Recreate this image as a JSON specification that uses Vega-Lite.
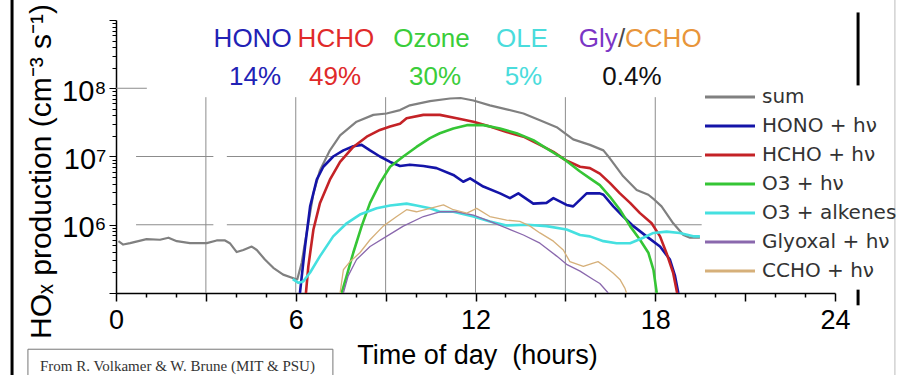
{
  "$schema": "https://vega.github.io/schema/vega-lite/v6.json",
  "width": 719,
  "height": 273,
  "autosize": {"type": "none"},
  "padding": {"left": 116, "top": 20, "right": 64, "bottom": 82},
  "background": "white",
  "config": {"view": {"stroke": null}, "font": "Liberation Sans"},
  "datasets": {
    "hgrid": [
      {"h": 0, "h2": 1.03, "v": 1e8},
      {"h": 0.67, "h2": 3.25, "v": 1e7},
      {"h": 3.7, "h2": 19.55, "v": 1e7},
      {"h": 0.67, "h2": 3.25, "v": 1e6},
      {"h": 3.7, "h2": 19.55, "v": 1e6}
    ],
    "vgrid": [
      {"h": 3, "v": 1e5, "v2": 7.4e7},
      {"h": 6, "v": 1e5, "v2": 7.4e7},
      {"h": 9, "v": 1e5, "v2": 7.4e7},
      {"h": 12, "v": 1e5, "v2": 7.4e7},
      {"h": 15, "v": 1e5, "v2": 7.4e7},
      {"h": 18, "v": 1e5, "v2": 7.4e7}
    ],
    "frame": [
      {"h": -3.47, "v": 3e9, "v2": 3e3},
      {"h": 24.77, "v": 1.29e9, "v2": 1.1e8},
      {"h": 24.77, "v": 1.12e5, "v2": 6.6e4}
    ],
    "edge": [{"h": 26.0, "v": 3e9, "v2": 3e3}],
    "creditBox": [{"h": -2.94, "h2": 7.24, "v": 1.5e4, "v2": 2e3}],
    "creditText": [{"h": -2.54, "v": 7.15e3, "t": "From R. Volkamer & W. Brune (MIT & PSU)"}],
    "labels": [
      {"t": "HONO", "g": "HONO", "h": 4.56, "v": 3.97e8},
      {"t": "HCHO", "g": "HCHO", "h": 7.34, "v": 3.97e8},
      {"t": "Ozone", "g": "Ozone", "h": 10.53, "v": 3.97e8},
      {"t": "OLE", "g": "OLE", "h": 13.55, "v": 3.97e8},
      {"t": "Gly", "g": "Gly", "h": 16.1, "v": 3.97e8},
      {"t": "/", "g": "slash", "h": 16.88, "v": 3.97e8},
      {"t": "CCHO", "g": "CCHO", "h": 18.27, "v": 3.97e8},
      {"t": "14%", "g": "HONO", "h": 4.64, "v": 1.125e8},
      {"t": "49%", "g": "HCHO", "h": 7.31, "v": 1.125e8},
      {"t": "30%", "g": "Ozone", "h": 10.65, "v": 1.125e8},
      {"t": "5%", "g": "OLE", "h": 13.6, "v": 1.125e8},
      {"t": "0.4%", "g": "total", "h": 17.22, "v": 1.125e8}
    ],
    "lines": [
      {"s": "sum", "h": 0.08, "v": 5.75e5}, {"s": "sum", "h": 0.24, "v": 5.13e5}, {"s": "sum", "h": 0.47, "v": 5.37e5}, {"s": "sum", "h": 1.02, "v": 6.17e5}, {"s": "sum", "h": 1.47, "v": 6.03e5}, {"s": "sum", "h": 1.75, "v": 6.46e5}, {"s": "sum", "h": 2.03, "v": 5.75e5}, {"s": "sum", "h": 2.47, "v": 5.37e5}, {"s": "sum", "h": 3.03, "v": 5.37e5}, {"s": "sum", "h": 3.36, "v": 5.89e5}, {"s": "sum", "h": 3.64, "v": 5.89e5}, {"s": "sum", "h": 3.8, "v": 5.37e5}, {"s": "sum", "h": 4.03, "v": 3.98e5}, {"s": "sum", "h": 4.25, "v": 4.27e5}, {"s": "sum", "h": 4.53, "v": 4.79e5}, {"s": "sum", "h": 4.7, "v": 4.27e5}, {"s": "sum", "h": 4.97, "v": 3.09e5}, {"s": "sum", "h": 5.25, "v": 2.34e5}, {"s": "sum", "h": 5.58, "v": 1.86e5}, {"s": "sum", "h": 5.97, "v": 1.62e5}, {"s": "sum", "h": 6.05, "v": 1.58e5}, {"s": "sum", "h": 6.2, "v": 2.8e5}, {"s": "sum", "h": 6.3, "v": 5.2e5}, {"s": "sum", "h": 6.42, "v": 1.05e6}, {"s": "sum", "h": 6.59, "v": 2.88e6}, {"s": "sum", "h": 6.81, "v": 6.31e6}, {"s": "sum", "h": 7.14, "v": 1.23e7}, {"s": "sum", "h": 7.48, "v": 2.04e7}, {"s": "sum", "h": 8.03, "v": 3.24e7}, {"s": "sum", "h": 8.59, "v": 4.07e7}, {"s": "sum", "h": 9.03, "v": 4.27e7}, {"s": "sum", "h": 9.48, "v": 4.79e7}, {"s": "sum", "h": 9.81, "v": 5.62e7}, {"s": "sum", "h": 10.48, "v": 6.46e7}, {"s": "sum", "h": 11.15, "v": 7.08e7}, {"s": "sum", "h": 11.5, "v": 7.2e7}, {"s": "sum", "h": 11.93, "v": 6.61e7}, {"s": "sum", "h": 12.48, "v": 5.62e7}, {"s": "sum", "h": 13.04, "v": 4.9e7}, {"s": "sum", "h": 13.6, "v": 4.27e7}, {"s": "sum", "h": 14.15, "v": 3.39e7}, {"s": "sum", "h": 14.71, "v": 2.69e7}, {"s": "sum", "h": 14.99, "v": 2.19e7}, {"s": "sum", "h": 15.26, "v": 1.78e7}, {"s": "sum", "h": 15.82, "v": 1.48e7}, {"s": "sum", "h": 16.27, "v": 1.23e7}, {"s": "sum", "h": 16.49, "v": 9.33e6}, {"s": "sum", "h": 16.93, "v": 5.13e6}, {"s": "sum", "h": 17.38, "v": 3.24e6}, {"s": "sum", "h": 17.77, "v": 2.75e6}, {"s": "sum", "h": 17.99, "v": 2.29e6}, {"s": "sum", "h": 18.21, "v": 1.86e6}, {"s": "sum", "h": 18.6, "v": 1.05e6}, {"s": "sum", "h": 18.94, "v": 7.08e5}, {"s": "sum", "h": 19.16, "v": 6.46e5}, {"s": "sum", "h": 19.49, "v": 6.46e5},
      {"s": "HONO + hν", "h": 6.14, "v": 1.0e5}, {"s": "HONO + hν", "h": 6.31, "v": 4.79e5}, {"s": "HONO + hν", "h": 6.48, "v": 1.86e6}, {"s": "HONO + hν", "h": 6.7, "v": 4.57e6}, {"s": "HONO + hν", "h": 6.92, "v": 7.08e6}, {"s": "HONO + hν", "h": 7.25, "v": 1.0e7}, {"s": "HONO + hν", "h": 7.59, "v": 1.23e7}, {"s": "HONO + hν", "h": 7.92, "v": 1.41e7}, {"s": "HONO + hν", "h": 8.2, "v": 1.48e7}, {"s": "HONO + hν", "h": 8.48, "v": 1.23e7}, {"s": "HONO + hν", "h": 8.81, "v": 1.0e7}, {"s": "HONO + hν", "h": 9.15, "v": 8.32e6}, {"s": "HONO + hν", "h": 9.48, "v": 7.24e6}, {"s": "HONO + hν", "h": 9.81, "v": 7.59e6}, {"s": "HONO + hν", "h": 10.26, "v": 7.24e6}, {"s": "HONO + hν", "h": 10.7, "v": 6.76e6}, {"s": "HONO + hν", "h": 11.26, "v": 5.37e6}, {"s": "HONO + hν", "h": 11.59, "v": 4.27e6}, {"s": "HONO + hν", "h": 11.82, "v": 4.79e6}, {"s": "HONO + hν", "h": 12.26, "v": 3.63e6}, {"s": "HONO + hν", "h": 12.82, "v": 2.88e6}, {"s": "HONO + hν", "h": 13.15, "v": 2.45e6}, {"s": "HONO + hν", "h": 13.43, "v": 2.88e6}, {"s": "HONO + hν", "h": 13.93, "v": 2.04e6}, {"s": "HONO + hν", "h": 14.37, "v": 2.09e6}, {"s": "HONO + hν", "h": 14.6, "v": 2.45e6}, {"s": "HONO + hν", "h": 15.04, "v": 1.95e6}, {"s": "HONO + hν", "h": 15.26, "v": 1.86e6}, {"s": "HONO + hν", "h": 15.71, "v": 2.88e6}, {"s": "HONO + hν", "h": 16.15, "v": 2.88e6}, {"s": "HONO + hν", "h": 16.27, "v": 2.75e6}, {"s": "HONO + hν", "h": 16.6, "v": 1.86e6}, {"s": "HONO + hν", "h": 16.93, "v": 1.32e6}, {"s": "HONO + hν", "h": 17.27, "v": 9.55e5}, {"s": "HONO + hν", "h": 17.71, "v": 6.76e5}, {"s": "HONO + hν", "h": 18.16, "v": 4.79e5}, {"s": "HONO + hν", "h": 18.49, "v": 3.09e5}, {"s": "HONO + hν", "h": 18.66, "v": 1.78e5}, {"s": "HONO + hν", "h": 18.77, "v": 1.0e5},
      {"s": "HCHO + hν", "h": 6.34, "v": 1.0e5}, {"s": "HCHO + hν", "h": 6.42, "v": 2.45e5}, {"s": "HCHO + hν", "h": 6.59, "v": 8.51e5}, {"s": "HCHO + hν", "h": 6.81, "v": 2.09e6}, {"s": "HCHO + hν", "h": 7.14, "v": 4.57e6}, {"s": "HCHO + hν", "h": 7.48, "v": 8.32e6}, {"s": "HCHO + hν", "h": 7.92, "v": 1.38e7}, {"s": "HCHO + hν", "h": 8.37, "v": 1.95e7}, {"s": "HCHO + hν", "h": 8.81, "v": 2.45e7}, {"s": "HCHO + hν", "h": 9.15, "v": 2.75e7}, {"s": "HCHO + hν", "h": 9.48, "v": 3.02e7}, {"s": "HCHO + hν", "h": 9.7, "v": 3.63e7}, {"s": "HCHO + hν", "h": 10.26, "v": 4.07e7}, {"s": "HCHO + hν", "h": 10.81, "v": 4.07e7}, {"s": "HCHO + hν", "h": 11.37, "v": 3.63e7}, {"s": "HCHO + hν", "h": 11.93, "v": 3.24e7}, {"s": "HCHO + hν", "h": 12.48, "v": 2.75e7}, {"s": "HCHO + hν", "h": 13.04, "v": 2.29e7}, {"s": "HCHO + hν", "h": 13.6, "v": 1.95e7}, {"s": "HCHO + hν", "h": 14.15, "v": 1.48e7}, {"s": "HCHO + hν", "h": 14.6, "v": 1.17e7}, {"s": "HCHO + hν", "h": 14.99, "v": 8.91e6}, {"s": "HCHO + hν", "h": 15.49, "v": 7.08e6}, {"s": "HCHO + hν", "h": 15.82, "v": 6.76e6}, {"s": "HCHO + hν", "h": 16.15, "v": 5.62e6}, {"s": "HCHO + hν", "h": 16.49, "v": 4.07e6}, {"s": "HCHO + hν", "h": 16.82, "v": 2.88e6}, {"s": "HCHO + hν", "h": 17.16, "v": 2.09e6}, {"s": "HCHO + hν", "h": 17.49, "v": 1.48e6}, {"s": "HCHO + hν", "h": 17.88, "v": 1.05e6}, {"s": "HCHO + hν", "h": 18.16, "v": 6.76e5}, {"s": "HCHO + hν", "h": 18.38, "v": 3.8e5}, {"s": "HCHO + hν", "h": 18.6, "v": 1.95e5}, {"s": "HCHO + hν", "h": 18.73, "v": 1.0e5},
      {"s": "O3 + hν", "h": 7.53, "v": 1.0e5}, {"s": "O3 + hν", "h": 7.7, "v": 1.78e5}, {"s": "O3 + hν", "h": 7.92, "v": 3.89e5}, {"s": "O3 + hν", "h": 8.2, "v": 9.55e5}, {"s": "O3 + hν", "h": 8.48, "v": 2.09e6}, {"s": "O3 + hν", "h": 8.81, "v": 4.07e6}, {"s": "O3 + hν", "h": 9.15, "v": 7.08e6}, {"s": "O3 + hν", "h": 9.59, "v": 1.0e7}, {"s": "O3 + hν", "h": 10.03, "v": 1.38e7}, {"s": "O3 + hν", "h": 10.48, "v": 1.86e7}, {"s": "O3 + hν", "h": 10.81, "v": 2.19e7}, {"s": "O3 + hν", "h": 11.26, "v": 2.57e7}, {"s": "O3 + hν", "h": 11.71, "v": 2.88e7}, {"s": "O3 + hν", "h": 12.26, "v": 2.88e7}, {"s": "O3 + hν", "h": 12.82, "v": 2.57e7}, {"s": "O3 + hν", "h": 13.37, "v": 2.19e7}, {"s": "O3 + hν", "h": 13.93, "v": 1.74e7}, {"s": "O3 + hν", "h": 14.37, "v": 1.32e7}, {"s": "O3 + hν", "h": 14.93, "v": 9.33e6}, {"s": "O3 + hν", "h": 15.49, "v": 6.03e6}, {"s": "O3 + hν", "h": 15.82, "v": 4.79e6}, {"s": "O3 + hν", "h": 16.15, "v": 3.8e6}, {"s": "O3 + hν", "h": 16.49, "v": 2.57e6}, {"s": "O3 + hν", "h": 16.82, "v": 1.66e6}, {"s": "O3 + hν", "h": 17.16, "v": 9.55e5}, {"s": "O3 + hν", "h": 17.49, "v": 6.03e5}, {"s": "O3 + hν", "h": 17.77, "v": 3.89e5}, {"s": "O3 + hν", "h": 17.94, "v": 2.19e5}, {"s": "O3 + hν", "h": 18.05, "v": 1.0e5},
      {"s": "O3 + alkenes", "h": 5.9, "v": 1.6e5}, {"s": "O3 + alkenes", "h": 6.09, "v": 1.41e5}, {"s": "O3 + alkenes", "h": 6.25, "v": 1.48e5}, {"s": "O3 + alkenes", "h": 6.48, "v": 2.0e5}, {"s": "O3 + alkenes", "h": 6.81, "v": 3.47e5}, {"s": "O3 + alkenes", "h": 7.25, "v": 6.76e5}, {"s": "O3 + alkenes", "h": 7.7, "v": 1.05e6}, {"s": "O3 + alkenes", "h": 8.14, "v": 1.41e6}, {"s": "O3 + alkenes", "h": 8.7, "v": 1.74e6}, {"s": "O3 + alkenes", "h": 9.15, "v": 1.91e6}, {"s": "O3 + alkenes", "h": 9.7, "v": 2.04e6}, {"s": "O3 + alkenes", "h": 10.03, "v": 1.91e6}, {"s": "O3 + alkenes", "h": 10.48, "v": 1.74e6}, {"s": "O3 + alkenes", "h": 10.81, "v": 1.55e6}, {"s": "O3 + alkenes", "h": 11.26, "v": 1.55e6}, {"s": "O3 + alkenes", "h": 11.93, "v": 1.32e6}, {"s": "O3 + alkenes", "h": 12.48, "v": 1.12e6}, {"s": "O3 + alkenes", "h": 13.04, "v": 9.77e5}, {"s": "O3 + alkenes", "h": 13.71, "v": 1.0e6}, {"s": "O3 + alkenes", "h": 14.37, "v": 9.55e5}, {"s": "O3 + alkenes", "h": 15.04, "v": 8.51e5}, {"s": "O3 + alkenes", "h": 15.49, "v": 7.08e5}, {"s": "O3 + alkenes", "h": 15.82, "v": 6.76e5}, {"s": "O3 + alkenes", "h": 16.27, "v": 5.75e5}, {"s": "O3 + alkenes", "h": 16.71, "v": 5.37e5}, {"s": "O3 + alkenes", "h": 17.16, "v": 5.37e5}, {"s": "O3 + alkenes", "h": 17.6, "v": 6.46e5}, {"s": "O3 + alkenes", "h": 17.94, "v": 7.59e5}, {"s": "O3 + alkenes", "h": 18.38, "v": 7.94e5}, {"s": "O3 + alkenes", "h": 18.82, "v": 7.59e5}, {"s": "O3 + alkenes", "h": 19.27, "v": 6.76e5}, {"s": "O3 + alkenes", "h": 19.49, "v": 6.76e5},
      {"s": "Glyoxal + hν", "h": 7.59, "v": 1.0e5}, {"s": "Glyoxal + hν", "h": 7.75, "v": 1.78e5}, {"s": "Glyoxal + hν", "h": 8.03, "v": 3.09e5}, {"s": "Glyoxal + hν", "h": 8.48, "v": 4.79e5}, {"s": "Glyoxal + hν", "h": 9.03, "v": 6.76e5}, {"s": "Glyoxal + hν", "h": 9.59, "v": 9.55e5}, {"s": "Glyoxal + hν", "h": 10.26, "v": 1.32e6}, {"s": "Glyoxal + hν", "h": 10.81, "v": 1.55e6}, {"s": "Glyoxal + hν", "h": 11.37, "v": 1.55e6}, {"s": "Glyoxal + hν", "h": 11.93, "v": 1.38e6}, {"s": "Glyoxal + hν", "h": 12.48, "v": 1.12e6}, {"s": "Glyoxal + hν", "h": 13.04, "v": 8.91e5}, {"s": "Glyoxal + hν", "h": 13.6, "v": 7.08e5}, {"s": "Glyoxal + hν", "h": 14.15, "v": 5.37e5}, {"s": "Glyoxal + hν", "h": 14.71, "v": 3.47e5}, {"s": "Glyoxal + hν", "h": 15.04, "v": 2.63e5}, {"s": "Glyoxal + hν", "h": 15.49, "v": 2.09e5}, {"s": "Glyoxal + hν", "h": 15.93, "v": 1.58e5}, {"s": "Glyoxal + hν", "h": 16.15, "v": 1.38e5}, {"s": "Glyoxal + hν", "h": 16.43, "v": 1.0e5},
      {"s": "CCHO + hν", "h": 7.48, "v": 1.0e5}, {"s": "CCHO + hν", "h": 7.59, "v": 2.19e5}, {"s": "CCHO + hν", "h": 7.81, "v": 2.88e5}, {"s": "CCHO + hν", "h": 8.14, "v": 3.89e5}, {"s": "CCHO + hν", "h": 8.48, "v": 6.03e5}, {"s": "CCHO + hν", "h": 8.92, "v": 9.55e5}, {"s": "CCHO + hν", "h": 9.37, "v": 1.32e6}, {"s": "CCHO + hν", "h": 9.7, "v": 1.66e6}, {"s": "CCHO + hν", "h": 10.03, "v": 1.55e6}, {"s": "CCHO + hν", "h": 10.48, "v": 1.74e6}, {"s": "CCHO + hν", "h": 10.93, "v": 1.95e6}, {"s": "CCHO + hν", "h": 11.26, "v": 1.66e6}, {"s": "CCHO + hν", "h": 11.71, "v": 1.48e6}, {"s": "CCHO + hν", "h": 12.04, "v": 1.74e6}, {"s": "CCHO + hν", "h": 12.48, "v": 1.32e6}, {"s": "CCHO + hν", "h": 13.04, "v": 1.17e6}, {"s": "CCHO + hν", "h": 13.48, "v": 1.12e6}, {"s": "CCHO + hν", "h": 13.82, "v": 9.55e5}, {"s": "CCHO + hν", "h": 14.15, "v": 7.59e5}, {"s": "CCHO + hν", "h": 14.6, "v": 5.75e5}, {"s": "CCHO + hν", "h": 14.93, "v": 4.27e5}, {"s": "CCHO + hν", "h": 15.15, "v": 2.88e5}, {"s": "CCHO + hν", "h": 15.6, "v": 2.45e5}, {"s": "CCHO + hν", "h": 15.93, "v": 2.75e5}, {"s": "CCHO + hν", "h": 16.09, "v": 2.88e5}, {"s": "CCHO + hν", "h": 16.32, "v": 2.45e5}, {"s": "CCHO + hν", "h": 16.6, "v": 1.95e5}, {"s": "CCHO + hν", "h": 16.82, "v": 1.58e5}, {"s": "CCHO + hν", "h": 16.99, "v": 1.17e5}, {"s": "CCHO + hν", "h": 17.04, "v": 1.0e5}
    ]
  },
  "encoding": {
    "x": {
      "field": "h", "type": "quantitative",
      "scale": {"domain": [0, 24], "nice": false, "zero": false},
      "axis": {
        "values": [0,1,2,3,4,5,6,7,8,9,10,11,12,13,14,15,16,17,18,19,20,21,22,23,24],
        "labelExpr": "datum.value % 6 === 0 ? datum.label : ''",
        "format": "d",
        "grid": false,
        "domainColor": "#000", "domainWidth": 1.5,
        "tickColor": "#000", "tickWidth": 1.5,
        "tickSize": {"condition": {"test": "datum.value % 3 === 0", "value": 8}, "value": 4},
        "labelFontSize": 27, "labelColor": "#000", "labelFont": "Liberation Sans", "labelPadding": 6,
        "labelFlush": false, "labelOverlap": false,
        "title": "Time of day \u00a0(hours)",
        "titleFontSize": 27, "titleFontWeight": "normal", "titleColor": "#000", "titleFont": "Liberation Sans",
        "titleX": 361, "titleY": 70, "titleBaseline": "alphabetic", "titleAlign": "center"
      }
    },
    "y": {
      "field": "v", "type": "quantitative",
      "scale": {"type": "log", "domain": [1e5, 1e9], "nice": false},
      "axis": {
        "values": [1e5,2e5,3e5,4e5,5e5,6e5,7e5,8e5,9e5,1e6,2e6,3e6,4e6,5e6,6e6,7e6,8e6,9e6,1e7,2e7,3e7,4e7,5e7,6e7,7e7,8e7,9e7,1e8,2e8,3e8,4e8,5e8,6e8,7e8,8e8,9e8,1e9],
        "labelExpr": "datum.value == 1e8 ? '10⁸' : datum.value == 1e7 ? '10⁷' : datum.value == 1e6 ? '10⁶' : ''",
        "grid": false,
        "domainColor": "#000", "domainWidth": 1.5,
        "tickColor": "#000", "tickWidth": 1,
        "tickSize": {"condition": {"test": "indexof([100000, 1000000, 10000000, 100000000, 1000000000], datum.value) >= 0", "value": 7}, "value": 4},
        "labelFontSize": 29, "labelColor": "#000", "labelFont": "Liberation Sans", "labelPadding": 3,
        "labelOffset": 3, "labelOverlap": false, "labelFlush": false,
        "title": "HOₓ production (cm⁻³ s⁻¹)",
        "titleFontSize": 30, "titleFontWeight": "normal", "titleColor": "#000", "titleFont": "Liberation Sans",
        "titleAngle": 270, "titleX": -66, "titleY": 151, "titleBaseline": "alphabetic", "titleAlign": "center"
      }
    }
  },
  "layer": [
    {
      "data": {"name": "hgrid"},
      "mark": {"type": "rule", "color": "#8c8c8c", "strokeWidth": 1},
      "encoding": {"x2": {"field": "h2"}}
    },
    {
      "data": {"name": "vgrid"},
      "mark": {"type": "rule", "color": "#8c8c8c", "strokeWidth": 1},
      "encoding": {"y2": {"field": "v2"}}
    },
    {
      "data": {"name": "frame"},
      "mark": {"type": "rule", "color": "#000", "strokeWidth": 3},
      "encoding": {"y2": {"field": "v2"}}
    },
    {
      "data": {"name": "edge"},
      "mark": {"type": "rule", "color": "#bbbbbb", "strokeWidth": 1},
      "encoding": {"y2": {"field": "v2"}}
    },
    {
      "data": {"name": "creditBox"},
      "mark": {"type": "rect", "fill": "white", "stroke": "#777", "strokeWidth": 1},
      "encoding": {"x2": {"field": "h2"}, "y2": {"field": "v2"}}
    },
    {
      "data": {"name": "creditText"},
      "mark": {"type": "text", "align": "left", "baseline": "alphabetic", "font": "Liberation Serif", "fontSize": 15, "color": "#333"},
      "encoding": {"text": {"field": "t"}}
    },
    {
      "data": {"name": "lines"},
      "mark": {"type": "line", "clip": true, "strokeJoin": "round"},
      "encoding": {
        "color": {
          "field": "s", "type": "nominal",
          "scale": {
            "domain": ["sum", "HONO + hν", "HCHO + hν", "O3 + hν", "O3 + alkenes", "Glyoxal + hν", "CCHO + hν"],
            "range": ["#808080", "#1414a8", "#c42226", "#35c535", "#45e0e0", "#8a68ad", "#d6b07a"]
          },
          "legend": {
            "orient": "none", "legendX": 600, "legendY": 63,
            "title": null, "padding": 0,
            "symbolType": "M-2,0H2", "symbolSize": 625, "symbolStrokeWidth": 3,
            "labelFont": "DejaVu Sans", "labelFontSize": 20, "labelColor": "#333",
            "labelOffset": 18, "rowPadding": 5, "labelLimit": 300
          }
        },
        "strokeWidth": {
          "condition": [
            {"test": "datum.s == 'sum'", "value": 2.2},
            {"test": "datum.s == 'Glyoxal + hν' || datum.s == 'CCHO + hν'", "value": 1.3}
          ],
          "value": 2.6
        }
      }
    },
    {
      "data": {"name": "labels"},
      "mark": {"type": "text", "align": "center", "baseline": "alphabetic", "font": "Liberation Sans", "fontSize": 26},
      "encoding": {
        "text": {"field": "t"},
        "color": {
          "field": "g", "type": "nominal",
          "scale": {
            "domain": ["HONO", "HCHO", "Ozone", "OLE", "Gly", "slash", "CCHO", "total"],
            "range": ["#2222b5", "#e02a2a", "#3acd3a", "#4adcdc", "#7b35c5", "#4a4a4a", "#e8953a", "#111111"]
          },
          "legend": null
        }
      }
    }
  ],
  "resolve": {"scale": {"color": "independent"}}
}
